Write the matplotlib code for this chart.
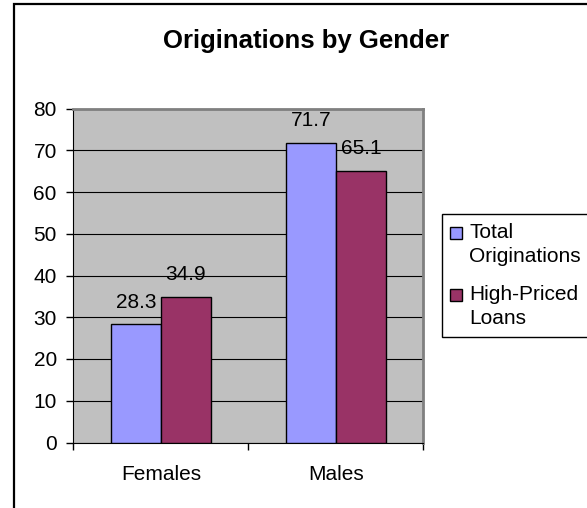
import matplotlib
matplotlib.use('Agg')
from matplotlib import pyplot as plt
from matplotlib.patches import Rectangle
import numpy as np

plt.rcParams['font.family'] = ['Liberation Sans', 'DejaVu Sans']

# Data

genders = ['Females', 'Males']
total = [28.3, 71.7]
highPriced = [34.9, 65.1]
seriesNames = ['Total\nOriginations', 'High-Priced\nLoans']
colors = ['#9999FF', '#993366']

W, H = 587, 508
fs = 15

def fx(px): return px/W
def fy(py): return 1-py/H

fig = plt.figure(figsize=(W/100, H/100), dpi=100)

# Outer chart frame (left and top edges visible)

fig.patches.append(Rectangle((fx(13.5), -0.1), 1.2, fy(4.5)+0.1,
    transform=fig.transFigure, fill=False, edgecolor='black', lw=1.6))

ax = fig.add_axes([fx(73.5), fy(442.5), 350/W, 334/H])
ax.set_facecolor('#C0C0C0')

x = np.arange(len(genders))
width = 50/175

b1 = ax.bar(x-width/2, total, width, color=colors[0], edgecolor='black', lw=1, zorder=3)
b2 = ax.bar(x+width/2, highPriced, width, color=colors[1], edgecolor='black', lw=1, zorder=3)

# Value labels above each bar

for bars, vals in ((b1, total), (b2, highPriced)):
    for bar, v in zip(bars, vals):
        ax.annotate('%.1f' % v, (bar.get_x()+bar.get_width()/2, v),
                    xytext=(0, 12), textcoords='offset points',
                    ha='center', va='baseline', fontsize=fs, zorder=4)

ax.set_xlim(-0.5, 1.5)
ax.set_ylim(0, 80)
ax.set_yticks(np.arange(0, 81, 10))
ax.yaxis.grid(True, color='black', lw=0.8, zorder=1)
ax.set_axisbelow(True)

ax.set_xticks([-0.5, 0.5, 1.5])
ax.set_xticklabels([])
ax.set_xticks(x, minor=True)
ax.set_xticklabels(genders, minor=True)
ax.tick_params(axis='x', which='minor', length=0, pad=16, labelsize=fs)
ax.tick_params(axis='x', which='major', length=5, width=1, direction='out')
ax.tick_params(axis='y', length=5, width=1, direction='out', labelsize=fs, pad=7)

ax.spines['left'].set_color('black')
ax.spines['bottom'].set_color('black')
for s in ('top', 'right'):
    ax.spines[s].set_color('#808080')
    ax.spines[s].set_linewidth(2)

fig.text(fx(306), fy(48), 'Originations by Gender', ha='center', va='baseline',
         fontsize=18.5, fontweight='bold')

# Legend box, marker beside the first line of each entry

fig.patches.append(Rectangle((fx(442), fy(337)), 1, fy(214)-fy(337),
    transform=fig.transFigure, facecolor='white', edgecolor='black', lw=1))
for i, (name, c) in enumerate(zip(seriesNames, colors)):
    base = 238 + 62*i
    fig.patches.append(Rectangle((fx(450), fy(base+1)), 12/W, 12/H,
        transform=fig.transFigure, facecolor=c, edgecolor='black', lw=1))
    for j, line in enumerate(name.split('\n')):
        fig.text(fx(469), fy(base + 23.5*j), line, ha='left', va='baseline',
                 fontsize=fs)

plt.savefig('out.png', dpi=100)
